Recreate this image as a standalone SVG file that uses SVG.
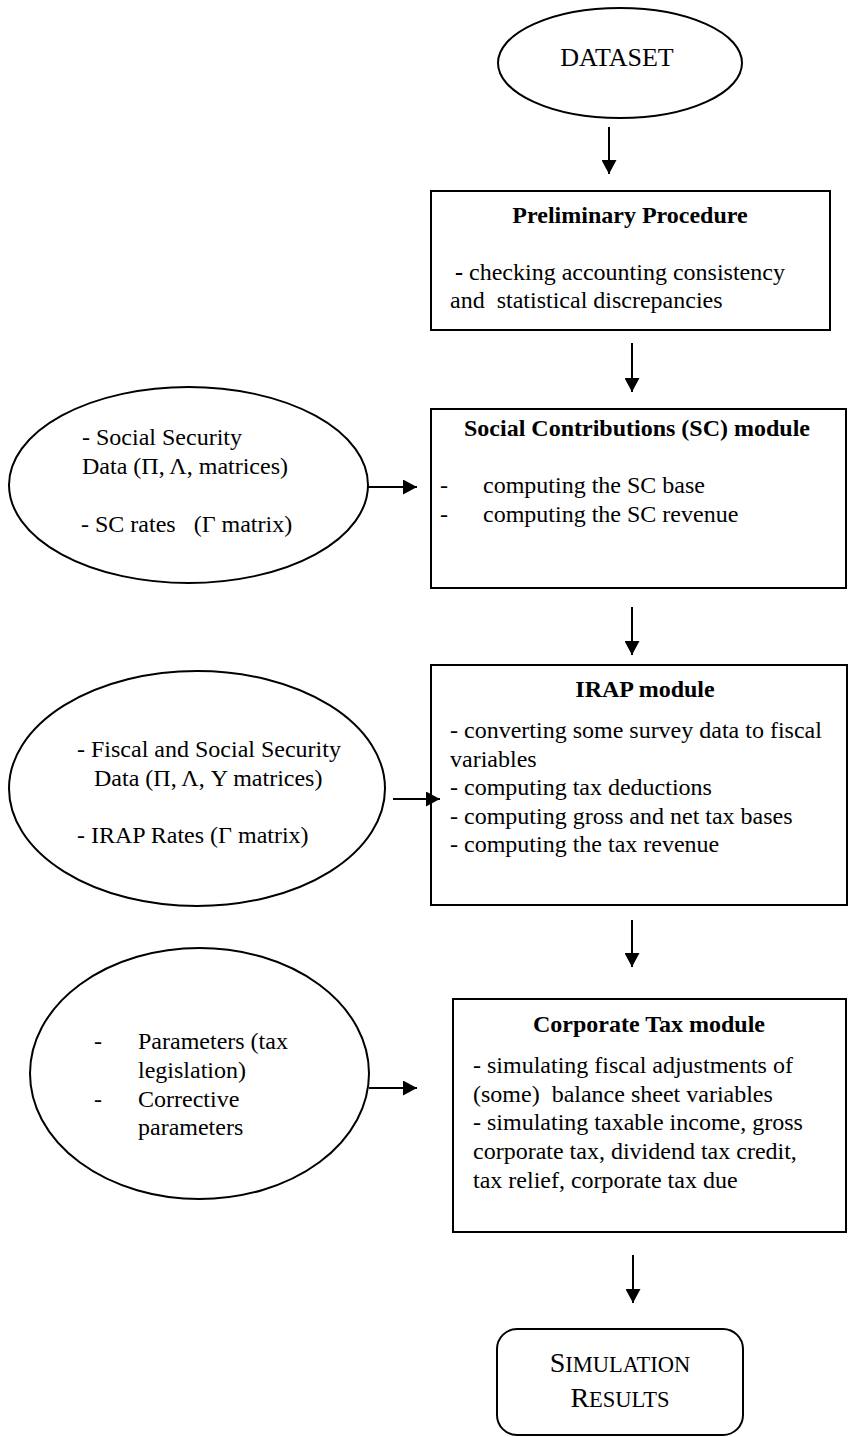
<svg xmlns="http://www.w3.org/2000/svg" width="848" height="1437" viewBox="0 0 848 1437">
<style>
  .shape { fill: #fff; stroke: #000; stroke-width: 2; }
  .t { font-family: "Liberation Serif", "Times New Roman", serif; font-size: 24px; fill: #000; }
  .b { font-weight: bold; }
  .c { text-anchor: middle; }
  .conn { stroke: #000; stroke-width: 2; fill: none; marker-end: url(#arrow); }
</style>
<defs>
  <marker id="arrow" markerUnits="userSpaceOnUse" markerWidth="15" markerHeight="15" refX="14" refY="7.5" orient="auto">
    <path d="M0,0 L14,7.5 L0,15 Z" fill="#000"/>
  </marker>
</defs>
<rect width="848" height="1437" fill="#fff"/>

<g id="dataset">
  <ellipse class="shape" cx="620" cy="63" rx="122" ry="55"/>
  <text class="t c" x="617" y="66" style="font-size:26px">DATASET</text>
</g>

<g id="preliminary">
  <rect class="shape" x="431" y="191" width="399" height="139"/>
  <text class="t b c" x="630" y="223">Preliminary Procedure</text>
  <text class="t" x="455" y="280"><tspan class="b">-</tspan> checking accounting consistency</text>
  <text class="t" x="450" y="308" xml:space="preserve">and  statistical discrepancies</text>
</g>

<g id="ss-data">
  <ellipse class="shape" cx="188.5" cy="485" rx="179.5" ry="98"/>
  <text class="t" x="82" y="445">- Social Security</text>
  <text class="t" x="82" y="474">Data (Π, Λ, matrices)</text>
  <text class="t" x="81" y="532" xml:space="preserve">- SC rates   (Γ matrix)</text>
</g>

<g id="sc-module">
  <rect class="shape" x="431" y="409" width="415" height="179"/>
  <text class="t b c" x="637" y="436">Social Contributions (SC) module</text>
  <text class="t" x="440" y="493">-</text>
  <text class="t" x="483" y="493">computing the SC base</text>
  <text class="t" x="440" y="522">-</text>
  <text class="t" x="483" y="522">computing the SC revenue</text>
</g>

<g id="fiscal-data">
  <ellipse class="shape" cx="197" cy="788.5" rx="188" ry="117.5"/>
  <text class="t" x="77" y="757">- Fiscal and Social Security</text>
  <text class="t" x="94" y="786">Data (Π, Λ, Y matrices)</text>
  <text class="t" x="77" y="843">- IRAP Rates (Γ matrix)</text>
</g>

<g id="irap-module">
  <rect class="shape" x="431" y="665" width="416" height="240"/>
  <text class="t b c" x="645" y="697">IRAP module</text>
  <text class="t" x="450" y="738">- converting some survey data to fiscal</text>
  <text class="t" x="450" y="767">variables</text>
  <text class="t" x="450" y="795">- computing tax deductions</text>
  <text class="t" x="450" y="824">- computing gross and net tax bases</text>
  <text class="t" x="450" y="852">- computing the tax revenue</text>
</g>

<g id="parameters">
  <ellipse class="shape" cx="199.5" cy="1073.5" rx="169.5" ry="125.5"/>
  <text class="t" x="94" y="1049">-</text>
  <text class="t" x="138" y="1049">Parameters (tax</text>
  <text class="t" x="138" y="1078">legislation)</text>
  <text class="t" x="94" y="1107">-</text>
  <text class="t" x="138" y="1107">Corrective</text>
  <text class="t" x="138" y="1135">parameters</text>
</g>

<g id="corporate-module">
  <rect class="shape" x="453" y="999" width="393" height="233"/>
  <text class="t b c" x="649" y="1032">Corporate Tax module</text>
  <text class="t" x="473" y="1073">- simulating fiscal adjustments of</text>
  <text class="t" x="473" y="1102" xml:space="preserve">(some)  balance sheet variables</text>
  <text class="t" x="473" y="1130">- simulating taxable income, gross</text>
  <text class="t" x="473" y="1159">corporate tax, dividend tax credit,</text>
  <text class="t" x="473" y="1188">tax relief, corporate tax due</text>
</g>

<g id="results">
  <rect class="shape" x="497" y="1329" width="246" height="106" rx="20" ry="20"/>
  <text class="t c" x="620" y="1372" style="font-size:28px">S<tspan style="font-size:22.5px">IMULATION</tspan></text>
  <text class="t c" x="620" y="1407" style="font-size:28px">R<tspan style="font-size:22.5px">ESULTS</tspan></text>
</g>

<g id="connectors">
  <line class="conn" x1="609" y1="127" x2="609" y2="174"/>
  <line class="conn" x1="632" y1="343" x2="632" y2="392"/>
  <line class="conn" x1="368" y1="487" x2="417" y2="487"/>
  <line class="conn" x1="632" y1="607" x2="632" y2="655"/>
  <line class="conn" x1="393" y1="799" x2="440" y2="799"/>
  <line class="conn" x1="632" y1="920" x2="632" y2="967"/>
  <line class="conn" x1="369" y1="1088" x2="417" y2="1088"/>
  <line class="conn" x1="633" y1="1255" x2="633" y2="1303"/>
</g>
</svg>
